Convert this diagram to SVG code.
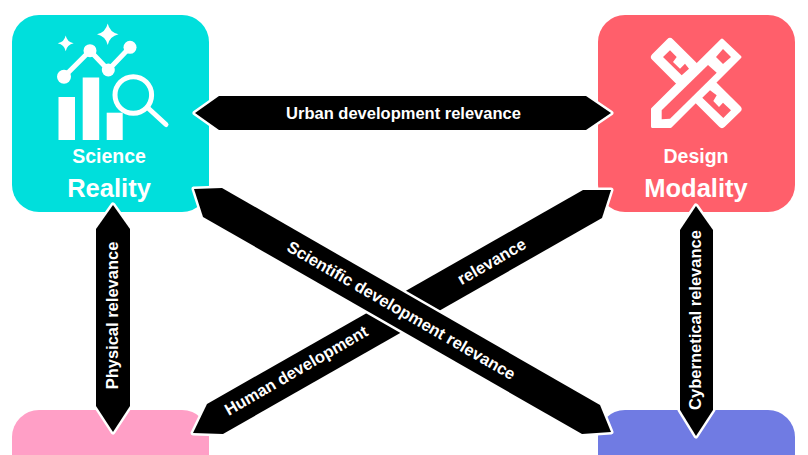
<svg xmlns="http://www.w3.org/2000/svg" width="808" height="455" viewBox="0 0 808 455">
<style>
text{font-family:"Liberation Sans",Arial,sans-serif;font-weight:bold;fill:#fff;text-anchor:middle}
.sub{font-size:19.500px}
.big{font-size:25.500px}
.lbl{font-size:16.500px}
.arr{fill:#000;stroke:#fff;stroke-width:5;stroke-linejoin:round;paint-order:stroke}
.ws{fill:none;stroke:#fff;stroke-linecap:round;stroke-linejoin:round}
.w{fill:#fff}
.r{fill:#ff5f6b}
</style>
<rect width="808" height="455" fill="#fff"/>
<g id="node-reality">
<rect x="12" y="15" width="197" height="197" rx="27" fill="#00dfdc"/>
<rect class="w" x="58.500" y="97" width="16.500" height="43"/>
<rect class="w" x="82.700" y="77.500" width="16.500" height="62.500"/>
<rect class="w" x="106.700" y="112.700" width="16" height="27.300"/>
<polyline class="ws" stroke-width="5" points="64,76.700 90,50.700 108.300,70 130,47.300"/>
<circle class="w" cx="64" cy="76.700" r="7"/><circle class="w" cx="90" cy="50.700" r="6.500"/><circle class="w" cx="108.300" cy="70" r="6.500"/><circle class="w" cx="130" cy="47.300" r="6.500"/>
<circle cx="133.300" cy="95" r="18.300" fill="none" stroke="#fff" stroke-width="5"/>
<line class="ws" stroke-width="5" stroke-linecap="butt" x1="148" y1="108" x2="166" y2="124.500"/>
<path class="w" d="M107.700 23.500Q109.700 32.300 118.500 34.300Q109.700 36.300 107.700 45Q105.700 36.300 97 34.300Q105.700 32.300 107.700 23.500Z"/>
<path class="w" d="M65.700 35.500Q67 42 73.700 43.300Q67 44.700 65.700 51.300Q64.400 44.700 57.700 43.300Q64.400 42 65.700 35.500Z"/>
<text class="sub" x="109" y="163">Science</text>
<text class="big" x="109" y="197">Reality</text>
</g>
<g id="node-modality">
<rect x="598" y="15" width="197" height="197" rx="27" fill="#ff5f6b"/>
<polygon class="w" stroke="#fff" stroke-width="8" stroke-linejoin="round" points="670,42 655,57 722,124 737.500,109"/>
<polygon class="r" points="670,50.300 663,57 681.700,75.300 689,68.700 685,63.700 680,68.700 673,62 676.700,57"/>
<polygon class="r" points="710,90.300 702.300,97.700 723.300,118 731,110.300 723,102.700 719,107 713.300,101 716.700,95.300"/>
<polygon class="w" stroke="#fff" stroke-width="3" stroke-linejoin="round" points="652.500,126.500 652.500,109 722,40 740,57 670.500,126.500"/>
<polygon class="r" points="661.700,110.300 708,65 716.700,72.700 670,118.700 661.700,119.300"/>
<polygon class="r" points="723,49 731,57 723,64 716,57"/>
<text class="sub" x="696" y="163">Design</text>
<text class="big" x="696" y="197">Modality</text>
</g>
<g id="node-pink"><rect x="12" y="410" width="197" height="197" rx="27" fill="#ff9fc6"/></g>
<g id="node-blue"><rect x="598" y="410" width="197" height="197" rx="27" fill="#707be3"/></g>
<g id="connectors">
<polygon class="arr" points="195,113 219,96 586,96 611,113 586,130 219,130"/>
<polygon class="arr" points="113,205 130,229 130,406 113,432 96,406 96,229"/>
<polygon class="arr" points="696,206 713,230 713,410 696,436 680,410 680,230"/>
<polygon class="arr" points="611,190 602,218 223,434 193,433 207,404 583,190"/>
<polygon class="arr" points="194,189 222,188 600,405 611,432 582,434 203,217"/>
<text class="lbl" x="403.500" y="119">Urban development relevance</text>
<text class="lbl" transform="translate(118 315.500) rotate(-90)">Physical relevance</text>
<text class="lbl" transform="translate(701 320) rotate(-90)">Cybernetical relevance</text>
<text class="lbl" transform="translate(401 311) rotate(30) translate(0 5)">Scientific development relevance</text>
<text class="lbl" transform="translate(296.500 371) rotate(-30) translate(0 5)">Human development</text>
<text class="lbl" transform="translate(492 262) rotate(-30) translate(0 5)">relevance</text>
</g>
</svg>
